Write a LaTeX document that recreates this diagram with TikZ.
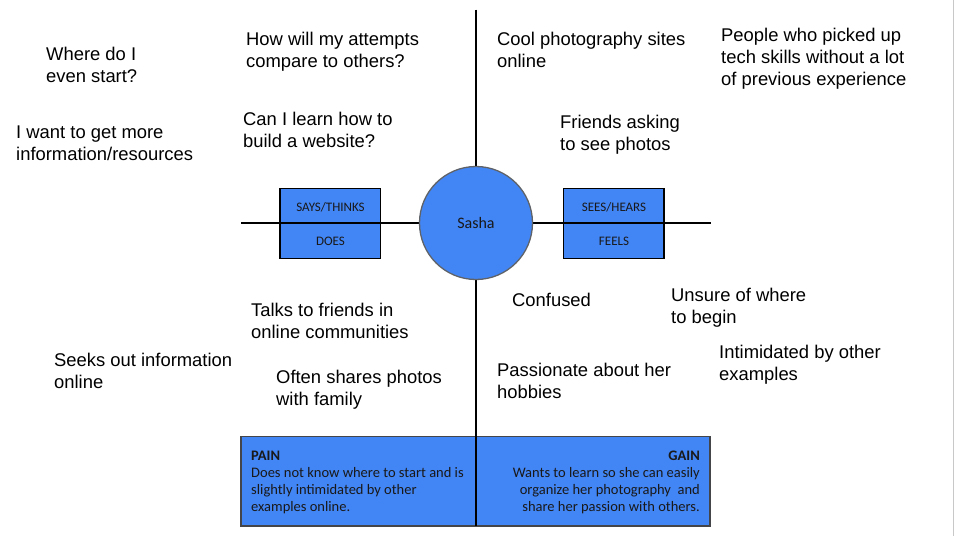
\documentclass[tikz,border=0pt]{standalone}
\usepackage{fontspec}
\setmainfont{Liberation Sans}
\newfontfamily\boxfont{Carlito}
\definecolor{mapblue}{HTML}{4285F4}
\definecolor{rimgray}{HTML}{5F6368}
\definecolor{edgegray}{HTML}{C8C8C8}
% stacked lines, baseline at the first line
\newcommand\leftlines[2]{\vtop{\baselineskip=#1\lineskiplimit=-100pt\lineskip=0pt\halign{##\hfil\cr#2\crcr}}}
\newcommand\rightlines[2]{\vtop{\baselineskip=#1\lineskiplimit=-100pt\lineskip=0pt\halign{\hfil##\cr#2\crcr}}}
\tikzset{
  axis/.style={line width=1.6pt, black},
  quadbox/.style={draw=black, line width=1.6pt, fill=mapblue},
  note/.style={anchor=base west, inner sep=0pt, font=\fontsize{18.4}{22}\selectfont},
  tag/.style={inner sep=0pt, font=\boxfont\fontsize{13}{15}\selectfont, text=black!90},
  summary/.style={inner sep=0pt, font=\boxfont\fontsize{14.5}{17.3}\selectfont, text=black!90},
}
\begin{document}
\begin{tikzpicture}[x=1pt, y=-1pt]
  \useasboundingbox (0,0) rectangle (954,536);
  \fill[white] (0,0) rectangle (954,536);
  \draw[edgegray, line width=1pt] (953,0) -- (953,536);

  % summary panel
  \draw[draw=rimgray!70!black, line width=1.2pt, fill=mapblue] (241,436.5) rectangle (710,526) ;
  \coordinate (paneltop) at (476,436.5);
  \coordinate (panelbot) at (476,526);

  % axes
  \coordinate (axtop) at (476,9.5);
  \coordinate (axleft) at (241,223);
  \coordinate (axright) at (711,223);
  \draw[axis] (axtop) -- (paneltop);
  \draw[line width=1.2pt, black] (paneltop) -- (panelbot);
  \draw[axis] (axleft) -- (axright);

  % quadrant boxes
  \draw[quadbox] (280,188.5) rectangle (380.5,258.5);
  \draw[quadbox] (563.5,188.5) rectangle (664,258.5);
  \coordinate (lbl) at (280,223); \coordinate (lbr) at (380.5,223);
  \coordinate (rbl) at (563.5,223); \coordinate (rbr) at (664,223);
  \draw[axis] (lbl) -- (lbr);
  \draw[axis] (rbl) -- (rbr);
  \node[tag] (says) at (330.5,207) {SAYS/THINKS};
  \node[tag] (does) at (330.5,241.5) {DOES};
  \node[tag] (sees) at (614,207) {SEES/HEARS};
  \node[tag] (feels) at (614,241.5) {FEELS};

  % persona
  \node[circle, draw=rimgray, line width=1.3pt, fill=mapblue, minimum size=113pt, inner sep=0pt,
        font=\boxfont\fontsize{16}{18}\selectfont, text=black!90] (sasha) at (476,223) {Sasha};

  % says / thinks
  \node[note] (n1) at (46,60) {\leftlines{22pt}{Where do I\cr even start?}};
  \node[note] (n2) at (246,45) {\leftlines{22pt}{How will my attempts\cr compare to others?}};
  \node[note] (n3) at (16,138.5) {\leftlines{22pt}{I want to get more\cr information/resources}};
  \node[note] (n4) at (243,125) {\leftlines{22pt}{Can I learn how to\cr build a website?}};

  % sees / hears
  \node[note] (n5) at (497,45) {\leftlines{22pt}{Cool photography sites\cr online}};
  \node[note] (n6) at (721,41.7) {\leftlines{22pt}{People who picked up\cr tech skills without a lot\cr of previous experience}};
  \node[note] (n7) at (560,128) {\leftlines{22pt}{Friends asking\cr to see photos}};

  % does
  \node[note] (n8) at (251,316.7) {\leftlines{22pt}{Talks to friends in\cr online communities}};
  \node[note] (n9) at (54,366) {\leftlines{22pt}{Seeks out information\cr online}};
  \node[note] (n10) at (276,383) {\leftlines{22pt}{Often shares photos\cr with family}};

  % feels
  \node[note] (n11) at (512,306.7) {Confused};
  \node[note] (n12) at (671,301.7) {\leftlines{22pt}{Unsure of where\cr to begin}};
  \node[note] (n13) at (719,358) {\leftlines{22pt}{Intimidated by other\cr examples}};
  \node[note] (n14) at (497,376.7) {\leftlines{22pt}{Passionate about her\cr hobbies}};

  % pain / gain
  \node[summary, anchor=base west] (pain) at (251,460) {\leftlines{17.3pt}{\textbf{PAIN}\cr Does not know where to start and is\cr slightly intimidated by other\cr examples online.}};
  \node[summary, anchor=base east] (gain) at (700,460) {\rightlines{17.3pt}{\textbf{GAIN}\cr Wants to learn so she can easily\cr organize her photography\ \ and\cr share her passion with others.}};
\end{tikzpicture}
\end{document}
